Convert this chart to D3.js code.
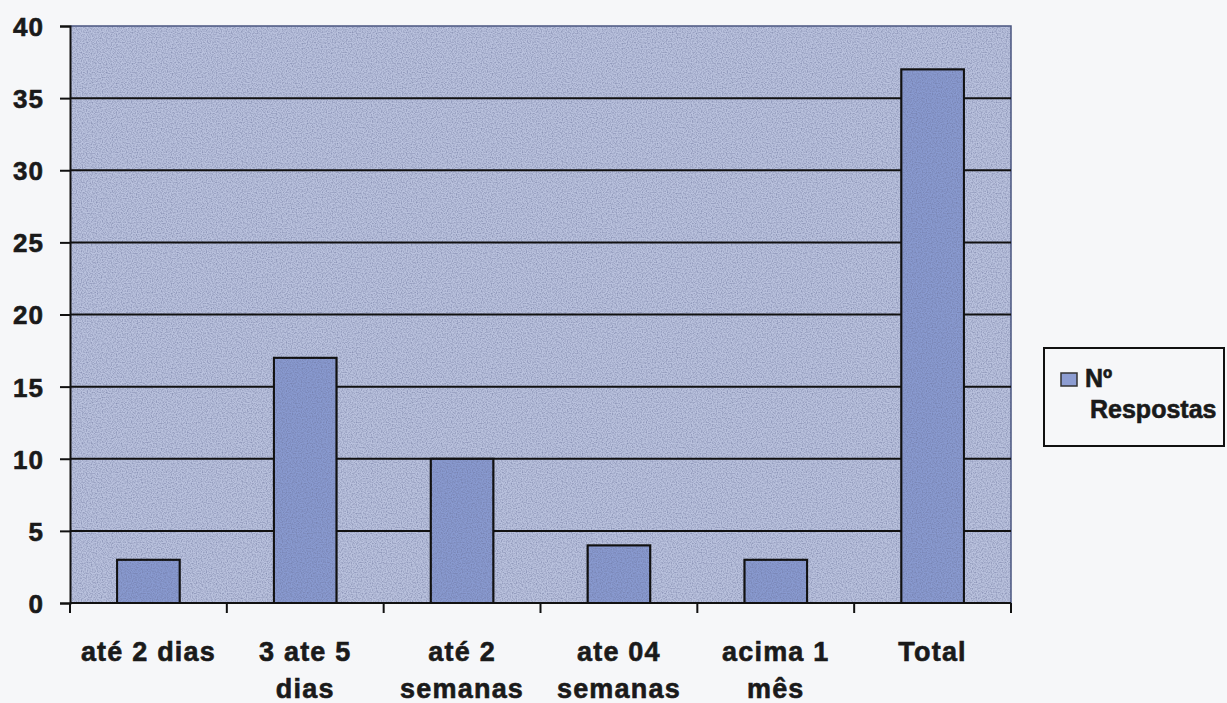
<!DOCTYPE html>
<html>
<head>
<meta charset="utf-8">
<script src="https://cdn.jsdelivr.net/npm/d3@7"></script>
<style>
  body { margin: 0; background: #f6f7f9; }
  text { font-family: "Liberation Sans", Arial, sans-serif; font-weight: bold; fill: #1a1a1a; stroke: #1a1a1a; stroke-width: 0.6px; }
</style>
</head>
<body>
<svg id="drawing_region"></svg>
<script>
// categories (each label split into lines) and values
const categories = ['até 2 dias', '3 ate 5 dias', 'até 2 semanas', 'ate 04 semanas', 'acima 1 mês', 'Total'];
const categoryLines = [['até 2 dias'], ['3 ate 5', 'dias'], ['até 2', 'semanas'], ['ate 04', 'semanas'], ['acima 1', 'mês'], ['Total']];
const respostas = [3, 17, 10, 4, 3, 37];
const yTicks = [0, 5, 10, 15, 20, 25, 30, 35, 40];
const seriesName = ['Nº', 'Respostas'];

class barChart {

    constructor(config) {
        this.config = config;
        this.init();
    }

    init() {
        let self = this;
        let m = self.config.margin;

        self.svg = d3.select(self.config.parent)
            .attr('width', self.config.width)
            .attr('height', self.config.height);

        // scanned-paper grain
        const f = self.svg.append('defs').append('filter')
            .attr('id', 'grain')
            .attr('x', 0).attr('y', 0).attr('width', 1).attr('height', 1);
        f.append('feTurbulence')
            .attr('type', 'fractalNoise')
            .attr('baseFrequency', 0.8)
            .attr('numOctaves', 1)
            .attr('seed', 3)
            .attr('result', 'noise');
        f.append('feColorMatrix')
            .attr('in', 'noise')
            .attr('type', 'matrix')
            .attr('values', '0 0 0 0 0.15  0 0 0 0 0.18  0 0 0 0 0.35  0 0 0 -1.6 1.0')
            .attr('result', 'dots');
        f.append('feComposite')
            .attr('in', 'dots').attr('in2', 'SourceGraphic')
            .attr('operator', 'in').attr('result', 'dotsIn');
        f.append('feBlend')
            .attr('in', 'dotsIn').attr('in2', 'SourceGraphic')
            .attr('mode', 'normal');

        self.inner_width = self.config.plotRight - m.left;
        self.inner_height = self.config.plotBottom - m.top;

        self.chart = self.svg.append('g')
            .attr('transform', `translate(${m.left}, ${m.top})`);

        self.xscale = d3.scaleBand()
            .domain(categories)
            .range([0, self.inner_width])
            .paddingInner(0.6)
            .paddingOuter(0.3);
        self.yscale = d3.scaleLinear()
            .domain([0, 40])
            .range([self.inner_height, 0]);
    }

    render() {
        let self = this;
        const w = self.inner_width, h = self.inner_height;

        // plot background
        self.chart.append('rect')
            .attr('width', w).attr('height', h)
            .attr('fill', '#bac2de')
            .attr('filter', 'url(#grain)');
        // top and right frame
        self.chart.append('path')
            .attr('d', `M0,0H${w}V${h}`)
            .attr('fill', 'none')
            .attr('stroke', '#4a5680')
            .attr('stroke-width', 1.5);

        // gridlines
        self.chart.append('g')
            .selectAll('line')
            .data(yTicks.filter(d => d > 0 && d < 40))
            .join('line')
            .attr('x1', 0).attr('x2', w)
            .attr('y1', d => self.yscale(d)).attr('y2', d => self.yscale(d))
            .attr('stroke', '#111').attr('stroke-width', 2);

        // bars
        self.chart.append('g')
            .selectAll('rect')
            .data(respostas)
            .join('rect')
            .attr('x', (d, i) => self.xscale(categories[i]))
            .attr('y', d => self.yscale(d))
            .attr('width', self.xscale.bandwidth())
            .attr('height', d => h - self.yscale(d))
            .attr('fill', '#899ad0')
            .attr('filter', 'url(#grain)')
            .attr('stroke', '#111')
            .attr('stroke-width', 2);
        // outlines on top (the filter hides strokes at the edge)
        self.chart.append('g')
            .selectAll('rect')
            .data(respostas)
            .join('rect')
            .attr('x', (d, i) => self.xscale(categories[i]))
            .attr('y', d => self.yscale(d))
            .attr('width', self.xscale.bandwidth())
            .attr('height', d => h - self.yscale(d))
            .attr('fill', 'none')
            .attr('stroke', '#111')
            .attr('stroke-width', 2);

        // y axis
        const yaxis = d3.axisLeft(self.yscale)
            .tickValues(yTicks)
            .tickSize(10)
            .tickPadding(16);
        const yg = self.chart.append('g').call(yaxis);
        yg.select('.domain').attr('stroke', '#111').attr('stroke-width', 2);
        yg.selectAll('.tick line').attr('stroke', '#111').attr('stroke-width', 2);
        yg.selectAll('.tick text')
            .attr('font-size', 26)
            .attr('font-family', null)
            .attr('letter-spacing', 1)
            .attr('dy', '0.36em');

        // x axis: ticks at category boundaries
        const bounds = d3.range(categories.length + 1).map(i => i * self.xscale.step());
        const xg = self.chart.append('g')
            .attr('transform', `translate(0, ${h})`);
        xg.append('line')
            .attr('x1', 0).attr('x2', w)
            .attr('stroke', '#111').attr('stroke-width', 2);
        xg.selectAll('line.tk')
            .data(bounds)
            .join('line')
            .attr('class', 'tk')
            .attr('x1', d => d).attr('x2', d => d)
            .attr('y1', 0).attr('y2', 10)
            .attr('stroke', '#111').attr('stroke-width', 2);
        xg.selectAll('text')
            .data(categoryLines)
            .join('text')
            .attr('text-anchor', 'middle')
            .attr('font-size', 27)
            .attr('letter-spacing', 1.2)
            .attr('transform', (d, i) =>
                `translate(${self.xscale(categories[i]) + self.xscale.bandwidth() / 2}, 58)`)
            .selectAll('tspan')
            .data(d => d)
            .join('tspan')
            .attr('x', 0)
            .attr('y', (d, j) => j * 37)
            .text(d => d);

        // legend
        const lg = self.svg.append('g')
            .attr('transform', 'translate(1044, 348)');
        lg.append('rect')
            .attr('width', 180).attr('height', 98)
            .attr('fill', '#f6f7f9')
            .attr('stroke', '#111').attr('stroke-width', 2);
        lg.append('rect')
            .attr('x', 17).attr('y', 25)
            .attr('width', 16).attr('height', 13)
            .attr('fill', '#8d9dd2')
            .attr('stroke', '#333').attr('stroke-width', 1.5);
        lg.append('text')
            .attr('font-size', 25)
            .selectAll('tspan')
            .data(seriesName)
            .join('tspan')
            .attr('x', (d, i) => i === 0 ? 41 : 46)
            .attr('y', (d, i) => 39 + i * 31)
            .text(d => d);
    }
}

const config = {
    parent: '#drawing_region',
    width: 1227,
    height: 703,
    margin: { top: 26, left: 70 },
    plotRight: 1011,
    plotBottom: 603
};
const chart = new barChart(config);
chart.render();
</script>
</body>
</html>
